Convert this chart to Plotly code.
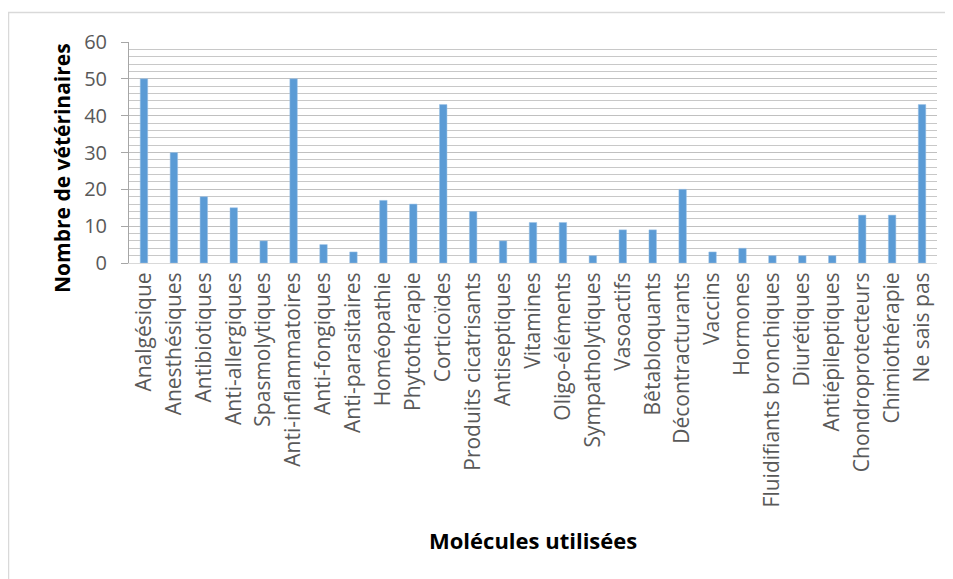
import plotly.graph_objects as go

categories = ["Analgésique", "Anesthésiques", "Antibiotiques", "Anti-allergiques", "Spasmolytiques",
              "Anti-inflammatoires", "Anti-fongiques", "Anti-parasitaires", "Homéopathie", "Phytothérapie",
              "Corticoïdes", "Produits cicatrisants", "Antiseptiques", "Vitamines", "Oligo-éléments",
              "Sympatholytiques", "Vasoactifs", "Bêtabloquants", "Décontracturants", "Vaccins",
              "Hormones", "Fluidifiants bronchiques", "Diurétiques", "Antiépileptiques",
              "Chondroprotecteurs", "Chimiothérapie", "Ne sais pas"]
values = [50, 30, 18, 15, 6, 50, 5, 3, 17, 16, 43, 14, 6, 11, 11, 2, 9, 9, 20, 3, 4, 2, 2, 2, 13, 13, 43]
y_ticks = [0, 10, 20, 30, 40, 50, 60]

OFF = 8  # page body margin
W, H = 953, 579
L, R, T, B = 129 - OFF, 16 + OFF, 42 - OFF, 316 + OFF
pw, ph = W - L - R, H - T - B

def px_x(p):
    return (p - OFF - L) / pw

def px_y(p):
    return (H - B - (p - OFF)) / ph

fig = go.Figure(go.Bar(
    x=categories, y=values,
    marker=dict(color="#5B9BD5", line=dict(color="#9DC3E6", width=0.5)),
    width=0.25,
))

fig.update_layout(
    width=W, height=H,
    margin=dict(l=L, r=R, t=T, b=B),
    paper_bgcolor="white", plot_bgcolor="white",
    showlegend=False,
    font=dict(family="Open Sans, sans-serif", color="#595959"),
    xaxis=dict(
        tickangle=-90,
        tickfont=dict(size=21, color="#595959"),
        showline=True, linecolor="#D9D9D9", linewidth=1,
        showgrid=False, ticks="",
        range=[-0.5, len(categories) - 0.5],
        automargin=False,
    ),
    yaxis=dict(
        range=[0, 60],
        tickvals=y_ticks,
        tickfont=dict(size=20, color="#595959"),
        ticklabelstandoff=10,
        showline=True, linecolor="#A6A6A6", linewidth=1,
        ticks="outside", ticklen=7, tickcolor="#A6A6A6",
        showgrid=True, gridcolor="#C0C0C0", gridwidth=1,
        minor=dict(dtick=2, showgrid=True, gridcolor="#C8C8C8", gridwidth=1),
        zeroline=False,
        automargin=False,
    ),
    annotations=[
        dict(text="<b>Molécules utilisées</b>", xref="paper", yref="paper",
             x=0.5, y=px_y(540), xanchor="center", yanchor="middle", showarrow=False,
             font=dict(size=22, color="black", family="Open Sans, sans-serif")),
        dict(text="<b>Nombre de vétérinaires</b>", xref="paper", yref="paper",
             x=px_x(62), y=px_y(168), xanchor="center", yanchor="middle", showarrow=False,
             textangle=-90,
             font=dict(size=21, color="black", family="Open Sans, sans-serif")),
    ],
    shapes=[dict(type="rect", xref="paper", yref="paper",
                 x0=px_x(8.5), x1=px_x(950), y0=px_y(620), y1=px_y(12.5),
                 line=dict(color="#D9D9D9", width=1.5), layer="below")],
)

fig.write_html("out.html")
